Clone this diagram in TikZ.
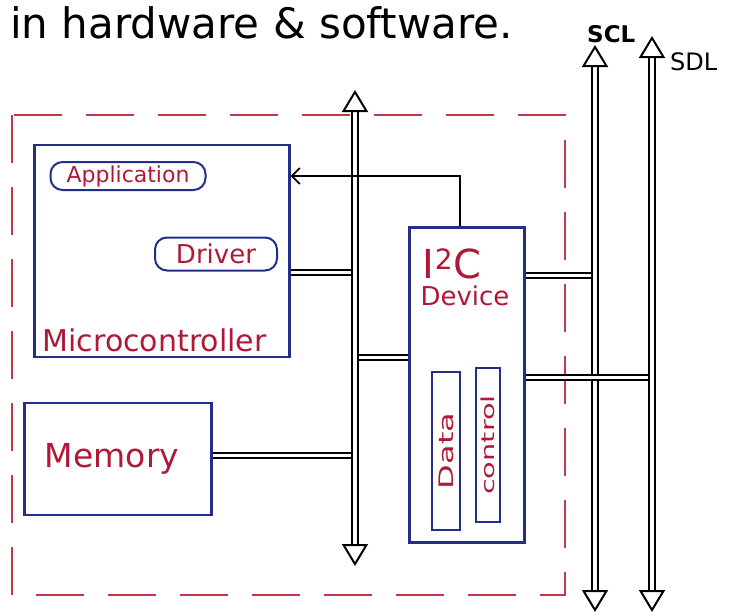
\documentclass[tikz,border=0pt]{standalone}
\usepackage{fontspec}
\setmainfont{DejaVu Sans}
\usepackage{graphicx}
\usetikzlibrary{positioning, arrows.meta}

\definecolor{inkblue}{RGB}{35,45,140}
\definecolor{inkred}{RGB}{175,25,55}
\definecolor{dashred}{RGB}{195,55,75}

\newcommand{\handsize}[1]{\fontsize{#1}{#1}\selectfont}

\begin{document}
\begin{tikzpicture}[x=1pt, y=-1pt,
    box/.style={draw=inkblue, line width=2.2pt, inner sep=0pt},
    tag/.style={box, line width=2pt, rounded corners=12pt, text=inkred},
    txt/.style={text=inkred, inner sep=0pt},
    bus/.style={draw=black, double=white, double distance=3.5pt, line width=2pt,
                {Triangle[open, length=22pt, width=26pt]}-{Triangle[open, length=22pt, width=26pt]}},
    link/.style={draw=black, double=white, double distance=3pt, line width=2pt}]

  \useasboundingbox (0,0) rectangle (732,616);

  % Heading line
  \node[anchor=base west, inner sep=0pt, font=\handsize{42}] (head) at (10,38) {in hardware \& software.};

  % System boundary
  \draw[dashred, line width=1.6pt, dash pattern=on 48pt off 24pt] (12,115) rectangle (565,595);

  % Nodes
  \node[box, minimum width=255pt, minimum height=212pt] (mcu) at (162,251) {};
  \node[tag, minimum width=155pt, minimum height=28pt, font=\handsize{22}] (app) at (128,176) {Application};
  \node[tag, minimum width=122pt, minimum height=33pt, font=\handsize{26}] (drv) at (216,254) {Driver};
  \node[txt, anchor=south west, font=\handsize{30}] (mculbl) at ([shift={(9pt,6pt)}]mcu.south west) {Microcontroller};

  \node[box, minimum width=187pt, minimum height=112pt] (mem) at (118,459) {};
  \node[txt, font=\handsize{33}] (memlbl) at ([xshift=-6pt]mem.center) {Memory};

  \node[box, minimum width=115pt, minimum height=315pt] (dev) at (467,385) {};
  \node[txt, font=\handsize{40}] (i2c) at (452,264) {I\textsuperscript{2}C};
  \node[txt, font=\handsize{26}, below=6pt of i2c, xshift=13pt] (devlbl) {Device};
  \node[box, minimum width=28pt, minimum height=158pt] (data) at (446,451) {};
  \node[txt, rotate=90, font=\handsize{20}] (datalbl) at (data) {\scalebox{1.6}[1]{Data}};
  \node[box, minimum width=24pt, minimum height=154pt] (ctrl) at (488,445) {};
  \node[txt, rotate=90, font=\handsize{18}] (ctrllbl) at (ctrl) {\scalebox{1.6}[1]{control}};

  % Bus ends
  \coordinate (ibusT) at (355,90);
  \coordinate (ibusB) at (355,566);
  \coordinate (sclT) at (595,45);
  \coordinate (sclB) at (595,612);
  \coordinate (sdlT) at (652,36);
  \coordinate (sdlB) at (652,612);

  \node[font=\bfseries\handsize{23}, inner sep=0pt, anchor=south west] (scllbl) at ([xshift=-8pt, yshift=2pt]sclT) {SCL};
  \node[font=\handsize{24}, inner sep=0pt, anchor=west] (sdllbl) at ([xshift=18pt, yshift=-26pt]sdlT) {SDL};

  % Taps onto the buses
  \coordinate (mcutap) at ([yshift=-21pt]mcu.east);
  \coordinate (memtap) at ([yshift=4pt]mem.east);
  \coordinate (devtap) at ([yshift=28pt]dev.west);
  \coordinate (scltap) at ([yshift=110pt]dev.east);
  \coordinate (sdltap) at ([yshift=8pt]dev.east);

  \draw[link] (mcutap) -- (mcutap -| ibusT);
  \draw[link] (memtap) -- (memtap -| ibusT);
  \draw[link] (devtap) -- (devtap -| ibusT);
  \draw[link] (scltap) -- (scltap -| sclT);

  % Buses
  \draw[bus] (ibusT) -- (ibusB);
  \draw[bus] (sclT) -- (sclB);
  \draw[link] (sdltap) -- ([xshift=-3pt]sdltap -| sdlT);
  \draw[bus] (sdlT) -- (sdlB);

  % Interrupt line back to the microcontroller
  \draw[-{Straight Barb[length=8pt, width=16pt]}, line width=1.8pt] ([xshift=-7pt]dev.north) |- (mcu.east |- app);

\end{tikzpicture}
\end{document}
